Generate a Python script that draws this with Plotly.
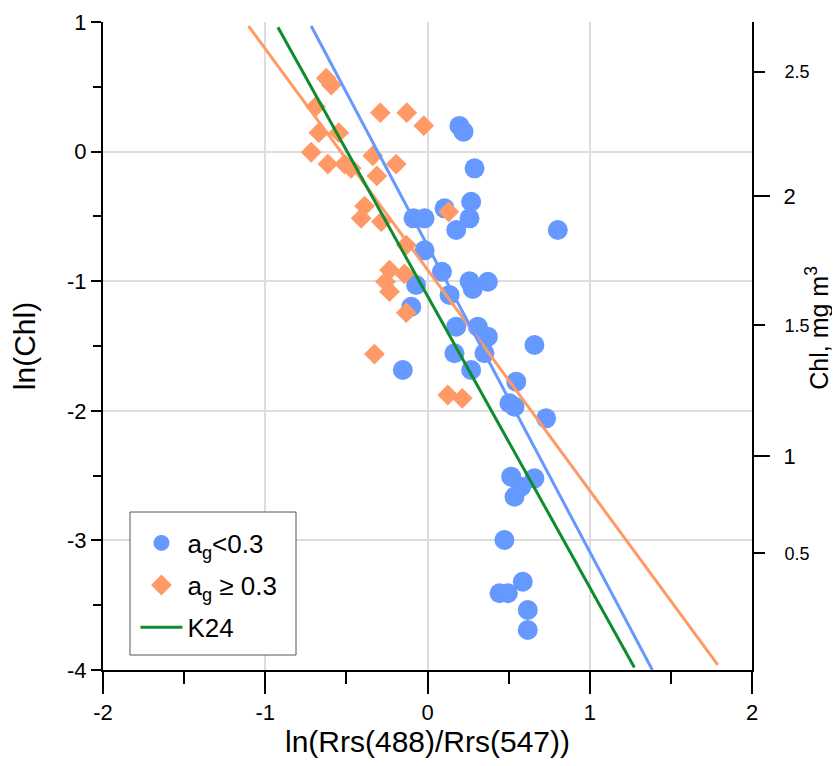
import plotly.graph_objects as go

# ---- data ----
blue_x = [0.197, 0.222, 0.290, 0.269, 0.105, -0.086, -0.018, 0.259, 0.177, 0.803,
          -0.018, 0.089, 0.259, 0.372, -0.070, 0.279, 0.136, -0.100, 0.177, 0.310,
          0.372, 0.659, 0.166, 0.351, -0.152, 0.269, 0.547, 0.505, 0.536, 0.731,
          0.516, 0.659, 0.577, 0.536, 0.474, 0.587, 0.444, 0.495, 0.618, 0.618]
blue_y = [0.198, 0.154, -0.129, -0.387, -0.438, -0.515, -0.515, -0.515, -0.605, -0.605,
          -0.762, -0.928, -1.000, -1.004, -1.029, -1.060, -1.106, -1.197, -1.351, -1.351,
          -1.428, -1.492, -1.556, -1.556, -1.685, -1.685, -1.775, -1.942, -1.968, -2.058,
          -2.508, -2.521, -2.586, -2.663, -2.997, -3.319, -3.408, -3.408, -3.537, -3.691]

orange_x = [-0.624, -0.593, -0.690, -0.291, -0.128, -0.023, -0.670, -0.547, -0.717, -0.614,
            -0.511, -0.470, -0.337, -0.193, -0.312, -0.388, -0.409, -0.285, 0.131, -0.131,
            -0.234, -0.142, -0.259, -0.234, -0.131, -0.327, 0.125, 0.214]
orange_y = [0.566, 0.514, 0.346, 0.300, 0.300, 0.200, 0.146, 0.146, -0.005, -0.096,
            -0.096, -0.129, -0.032, -0.096, -0.188, -0.420, -0.515, -0.541, -0.464, -0.721,
            -0.914, -0.944, -1.004, -1.081, -1.243, -1.562, -1.878, -1.904]

# regression / model lines (end points)
blue_fit_x = [-0.717, 1.386]
blue_fit_y = [0.969, -4.0]
orange_fit_x = [-1.103, 1.789]
orange_fit_y = [0.969, -3.96]
k24_x = [-0.922, 1.275]
k24_y = [0.959, -3.98]

# axis tick labels
x_tick_vals = [-2, -1, 0, 1, 2]
x_tick_text = ["-2", "-1", "0", "1", "2"]
y_tick_vals = [-4, -3, -2, -1, 0, 1]
y_tick_text = ["-4", "-3", "-2", "-1", "0", "1"]

# right axis (Chl) tick labels and their positions on the ln(Chl) scale
chl_major_labels = ["2", "1"]
chl_major_pos = [-0.343, -2.35]
chl_minor_labels = ["2.5", "1.5", "0.5"]
chl_minor_pos = [0.614, -1.34, -3.10]
chl_title = "Chl, mg m<sup>3</sup>"

BLUE = "#6699FF"
ORANGE = "#FF9966"
GREEN = "#0E8C2E"
FONT = "Liberation Sans, Arial, sans-serif"

fig = go.Figure()
fig.add_trace(go.Scatter(x=blue_x, y=blue_y, mode="markers", name="a<sub>g</sub><0.3",
                         legend="legend",
                         marker=dict(symbol="circle", size=20, color=BLUE)))
fig.add_trace(go.Scatter(x=orange_x, y=orange_y, mode="markers", name="a<sub>g</sub> ≥ 0.3",
                         legend="legend2",
                         marker=dict(symbol="diamond", size=16, color=ORANGE)))
fig.add_trace(go.Scatter(x=orange_fit_x, y=orange_fit_y, mode="lines", showlegend=False,
                         line=dict(color=ORANGE, width=3)))
fig.add_trace(go.Scatter(x=blue_fit_x, y=blue_fit_y, mode="lines", showlegend=False,
                         line=dict(color=BLUE, width=3)))
fig.add_trace(go.Scatter(x=k24_x, y=k24_y, mode="lines", name="K24", legend="legend3",
                         line=dict(color=GREEN, width=3)))

axis_common = dict(showline=True, linecolor="black", linewidth=2, ticks="outside",
                   tickcolor="black", tickwidth=2, zeroline=False,
                   gridcolor="#DDDDDD", gridwidth=1.5, automargin=False)

leg_common = dict(x=0.05, xanchor="left", yanchor="middle", bgcolor="rgba(0,0,0,0)",
                  borderwidth=0, font=dict(size=26), itemwidth=42)

fig.update_layout(
    width=840, height=766,
    margin=dict(l=95, r=96, t=14, b=104, autoexpand=False),
    paper_bgcolor="white", plot_bgcolor="white",
    font=dict(family=FONT, color="black"),
    xaxis=dict(range=[-2, 2], tickmode="array", tickvals=x_tick_vals, ticktext=x_tick_text,
               ticklen=22, tickfont=dict(size=22),
               minor=dict(dtick=0.5, ticklen=12, ticks="outside", tickcolor="black", tickwidth=2),
               title=dict(text="ln(Rrs(488)/Rrs(547))", font=dict(size=30), standoff=2),
               **axis_common),
    yaxis=dict(range=[-4, 1], tickmode="array", tickvals=y_tick_vals, ticktext=y_tick_text,
               ticklen=10, tickfont=dict(size=22),
               minor=dict(dtick=0.5, ticklen=8, ticks="outside", tickcolor="black", tickwidth=2),
               title=dict(text="ln(Chl)", font=dict(size=30), standoff=38),
               **axis_common),
    yaxis2=dict(range=[-4, 1], overlaying="y", side="right", anchor="x",
                showline=True, linecolor="black", linewidth=2, ticks="outside",
                tickcolor="black", tickwidth=2, ticklen=16, showgrid=False, zeroline=False,
                tickmode="array", tickvals=chl_major_pos, ticktext=chl_major_labels,
                tickfont=dict(size=22), ticklabelstandoff=9, automargin=False),
    yaxis3=dict(range=[-4, 1], overlaying="y", side="right", anchor="x",
                showline=False, ticks="outside", tickcolor="black", tickwidth=2, ticklen=12,
                showgrid=False, zeroline=False, automargin=False,
                tickmode="array", tickvals=chl_minor_pos, ticktext=chl_minor_labels,
                tickfont=dict(size=18), ticklabelstandoff=16),
    legend=dict(y=0.196, **leg_common),
    legend2=dict(y=0.131, **leg_common),
    legend3=dict(y=0.066, **leg_common),
    showlegend=True,
    shapes=[dict(type="rect", xref="paper", yref="paper", x0=0.0416, x1=0.2974,
                 y0=0.0231, y1=0.2438, line=dict(color="#555555", width=1),
                 fillcolor="white", layer="above")],
    annotations=[dict(text=chl_title, xref="paper", yref="paper", x=1.1, y=0.528,
                      xanchor="center", yanchor="middle", textangle=-90, showarrow=False,
                      font=dict(size=25))],
)
# invisible traces so yaxis2/yaxis3 are drawn
fig.add_trace(go.Scatter(x=[None], y=[None], yaxis="y2", showlegend=False, hoverinfo="skip"))
fig.add_trace(go.Scatter(x=[None], y=[None], yaxis="y3", showlegend=False, hoverinfo="skip"))

fig.write_html("out.html")
